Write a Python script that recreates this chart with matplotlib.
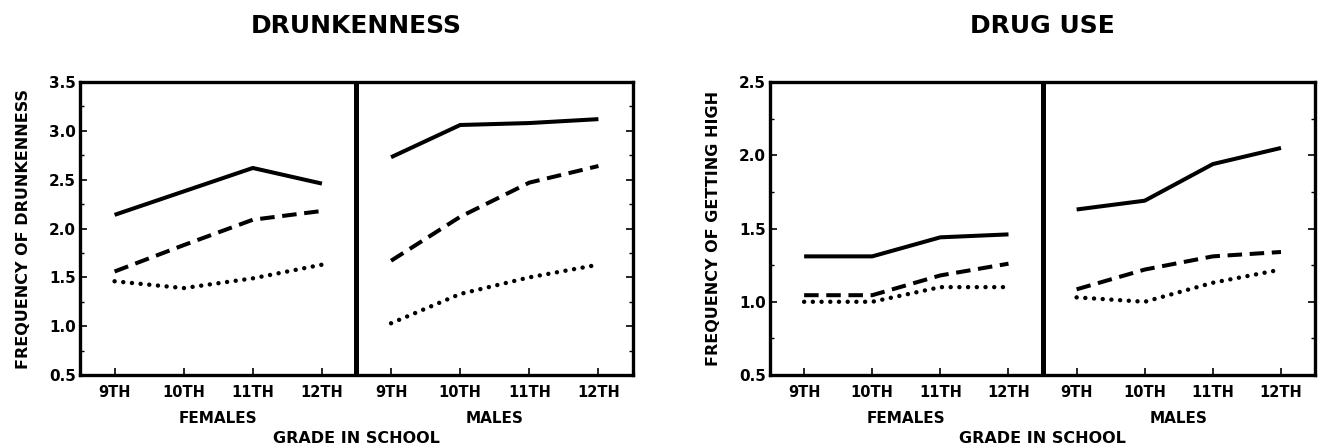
import matplotlib
matplotlib.use('Agg')
import numpy as np
import matplotlib.pyplot as plt
from matplotlib.ticker import MultipleLocator
import matplotlib.transforms as mtransforms

plt.rcParams['font.family'] = ['DejaVu Sans']
plt.rcParams['font.weight'] = 'bold'

# grades shown in each panel
grades = ['9TH', '10TH', '11TH', '12TH']
groups = ['FEMALES', 'MALES']

# drunkenness: three series, females then males
drunk_solid_f = [2.14, 2.38, 2.62, 2.46]
drunk_solid_m = [2.73, 3.06, 3.08, 3.12]
drunk_dash_f = [1.56, 1.83, 2.09, 2.18]
drunk_dash_m = [1.67, 2.12, 2.47, 2.64]
drunk_dot_f = [1.46, 1.39, 1.49, 1.63]
drunk_dot_m = [1.03, 1.33, 1.50, 1.63]

# drug use: same three series
drug_solid_f = [1.31, 1.31, 1.44, 1.46]
drug_solid_m = [1.63, 1.69, 1.94, 2.05]
drug_dash_f = [1.045, 1.045, 1.18, 1.26]
drug_dash_m = [1.085, 1.22, 1.31, 1.34]
drug_dot_f = [1.0, 1.0, 1.10, 1.10]
drug_dot_m = [1.03, 1.00, 1.13, 1.22]

STYLES = {
    'solid': dict(linestyle='-', lw=2.9, solid_capstyle='butt'),
    'dash': dict(linestyle=(0, (3.6, 1.9)), lw=2.9, dash_capstyle='butt'),
    'dot': dict(linestyle=(0, (0.01, 1.95)), lw=3.2, dash_capstyle='round'),
}


def draw_panel(ax, series, ylim, ylabel, title):
    # females at x=1..4, males at x=5..8, divider at 4.5
    xf = np.arange(1, 5)
    xm = np.arange(5, 9)
    for style, (vf, vm) in series:
        ax.plot(xf, vf, color='black', **STYLES[style])
        ax.plot(xm, vm, color='black', **STYLES[style])

    ax.axvline(4.5, color='black', lw=3.6)
    ax.set_xlim(0.5, 8.5)
    ax.set_ylim(*ylim)
    ax.yaxis.set_major_locator(MultipleLocator(0.5))
    ax.yaxis.set_minor_locator(MultipleLocator(0.25))
    ax.set_yticklabels([f'{t:.1f}' for t in ax.get_yticks()])
    ax.set_xticks(np.arange(1, 9), grades + grades)

    for s in ax.spines.values():
        s.set_linewidth(2.4)
    ax.tick_params(axis='both', which='major', direction='in', length=5, width=1.2,
                   labelsize=10.5, pad=7)
    ax.tick_params(axis='y', which='both', right=True, direction='in')
    ax.tick_params(axis='y', which='minor', length=3, width=1)
    ax.tick_params(axis='y', which='major', pad=3, labelsize=11)

    ax.set_ylabel(ylabel, fontsize=11.5, fontweight='bold', labelpad=13)
    ax.set_title(title, fontsize=18, fontweight='bold', pad=35)

    trans = mtransforms.blended_transform_factory(ax.transData, ax.transAxes)
    ax.text(2.5, -0.147, groups[0], transform=trans, ha='center', va='center',
            fontsize=11, fontweight='bold')
    ax.text(6.5, -0.147, groups[1], transform=trans, ha='center', va='center',
            fontsize=11, fontweight='bold')
    ax.text(4.5, -0.218, 'GRADE IN SCHOOL', transform=trans, ha='center', va='center',
            fontsize=11.5, fontweight='bold')


fig = plt.figure(figsize=(13.27, 4.47), dpi=100)
ax1 = fig.add_axes([0.0603, 0.161, 0.4167, 0.6555])
ax2 = fig.add_axes([0.5803, 0.161, 0.4107, 0.6555])

draw_panel(ax1, [('solid', (drunk_solid_f, drunk_solid_m)),
                 ('dash', (drunk_dash_f, drunk_dash_m)),
                 ('dot', (drunk_dot_f, drunk_dot_m))],
           (0.5, 3.5), 'FREQUENCY OF DRUNKENNESS', 'DRUNKENNESS')
draw_panel(ax2, [('solid', (drug_solid_f, drug_solid_m)),
                 ('dash', (drug_dash_f, drug_dash_m)),
                 ('dot', (drug_dot_f, drug_dot_m))],
           (0.5, 2.5), 'FREQUENCY OF GETTING HIGH', 'DRUG USE')

fig.savefig('out.png', dpi=100)
